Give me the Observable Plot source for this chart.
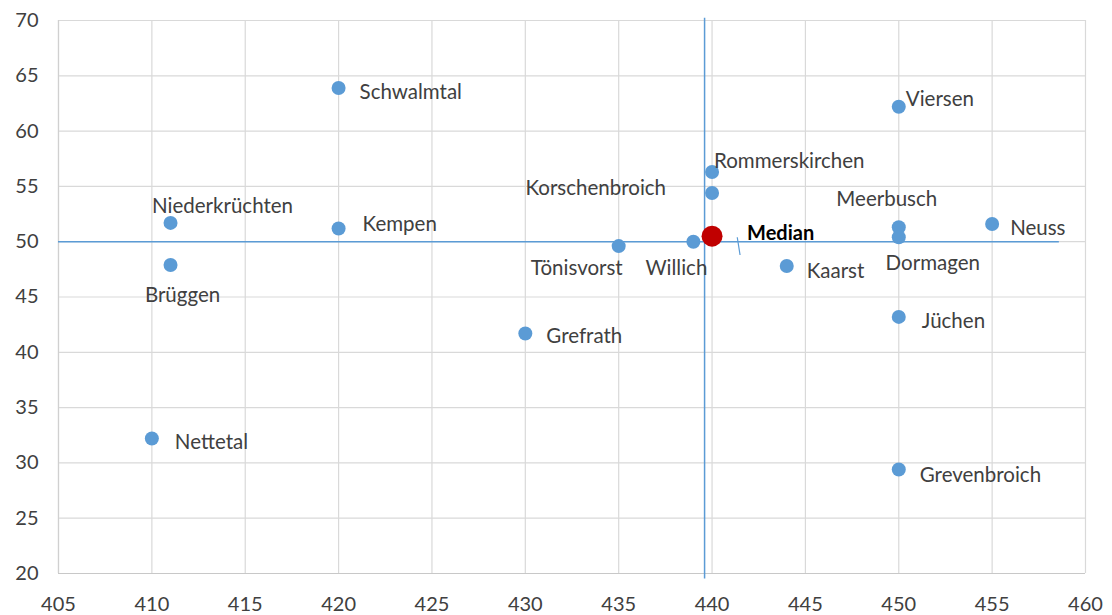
<!DOCTYPE html>
<html>
<head>
<meta charset="utf-8">
<script src="https://cdn.jsdelivr.net/npm/d3@7"></script>
<script src="https://cdn.jsdelivr.net/npm/@observablehq/plot@0.6"></script>
<style>
  html, body { margin: 0; padding: 0; background: #fff; }
  #chart svg { display: block; }
</style>
</head>
<body>
<div id="chart"></div>
<script>
// ---- data ----
const cities = ["Schwalmtal","Viersen","Rommerskirchen","Korschenbroich","Niederkrüchten","Kempen","Meerbusch","Neuss","Dormagen","Willich","Tönisvorst","Kaarst","Brüggen","Jüchen","Grefrath","Nettetal","Grevenbroich"];
const xValues = [420, 450, 440, 440, 411, 420, 450, 455, 450, 439, 435, 444, 411, 450, 430, 410, 450];
const yValues = [63.9, 62.2, 56.3, 54.4, 51.7, 51.2, 51.3, 51.6, 50.4, 50.0, 49.6, 47.8, 47.9, 43.2, 41.7, 32.2, 29.4];
const medianLabel = ["Median"];
const medianX = [440];
const medianY = [50.5];
const medianLineX = [439.6];
const medianLineY = [50.0];
const xTicks = [405, 410, 415, 420, 425, 430, 435, 440, 445, 450, 455, 460];
const yTicks = [20, 25, 30, 35, 40, 45, 50, 55, 60, 65, 70];

// ---- label placement (styling only) ----
const labelStyle = {
  "Schwalmtal":     {dx: 21,  dy: 4,   anchor: "start"},
  "Viersen":        {dx: 7,   dy: -7,  anchor: "start"},
  "Rommerskirchen": {dx: 2,   dy: -11, anchor: "start"},
  "Korschenbroich": {dx: -46, dy: -5,  anchor: "end"},
  "Niederkrüchten": {dx: 52,  dy: -16, anchor: "middle"},
  "Kempen":         {dx: 24,  dy: -4,  anchor: "start"},
  "Meerbusch":      {dx: -12, dy: -28, anchor: "middle"},
  "Neuss":          {dx: 18,  dy: 4,   anchor: "start"},
  "Dormagen":       {dx: 34,  dy: 26,  anchor: "middle"},
  "Willich":        {dx: -17, dy: 27,  anchor: "middle"},
  "Tönisvorst":     {dx: -42, dy: 22,  anchor: "middle"},
  "Kaarst":         {dx: 20,  dy: 5,   anchor: "start"},
  "Brüggen":        {dx: 12,  dy: 31,  anchor: "middle"},
  "Jüchen":         {dx: 23,  dy: 5,   anchor: "start"},
  "Grefrath":       {dx: 21,  dy: 3,   anchor: "start"},
  "Nettetal":       {dx: 23,  dy: 4,   anchor: "start"},
  "Grevenbroich":   {dx: 21,  dy: 6,   anchor: "start"}
};

const points = cities.map((c, i) => ({name: c, x: xValues[i], y: yValues[i]}));
const median = medianLabel.map((m, i) => ({name: m, x: medianX[i], y: medianY[i]}));

const FONT = "Lato, 'Open Sans', sans-serif";
const BLUE = "#5B9BD5";

const labelMarks = points.map(p => {
  const s = labelStyle[p.name];
  return Plot.text([p], {x: "x", y: "y", text: "name", dx: s.dx, dy: s.dy,
    textAnchor: s.anchor, fill: "#404040", fontSize: 20.5});
});

const chart = Plot.plot({
  width: 1112,
  height: 615,
  marginLeft: 58,
  marginRight: 27,
  marginTop: 20,
  marginBottom: 42,
  style: {fontFamily: FONT, background: "#fff"},
  x: {domain: [405, 460]},
  y: {domain: [20, 70]},
  marks: [
    Plot.gridX(xTicks, {stroke: "#d9d9d9", strokeOpacity: 1, strokeWidth: 1.2}),
    Plot.gridY(yTicks, {stroke: "#d9d9d9", strokeOpacity: 1, strokeWidth: 1.2}),
    Plot.ruleX([405], {stroke: "#d0d0d0", strokeWidth: 1.2}),
    Plot.ruleY([20], {stroke: "#c8c8c8", strokeWidth: 1.2}),
    Plot.axisX(xTicks, {tickSize: 0, tickPadding: 23, fontSize: 20, fill: "#404040", tickFormat: d => String(d)}),
    Plot.axisY(yTicks, {tickSize: 0, tickPadding: 20, fontSize: 20, fill: "#404040", tickFormat: d => String(d)}),
    // median reference lines
    Plot.ruleX(medianLineX, {y1: 19.5, y2: 70.2, stroke: BLUE, strokeWidth: 1.5}),
    Plot.ruleY(medianLineY, {x1: 405, x2: 458.6, stroke: BLUE, strokeWidth: 1.5}),
    Plot.link([{x1: 441.35, y1: 50.4, x2: 441.5, y2: 48.8}], {x1: "x1", y1: "y1", x2: "x2", y2: "y2", stroke: BLUE, strokeWidth: 1.2}),
    Plot.dot(points, {x: "x", y: "y", r: 7, fill: BLUE, stroke: "none"}),
    Plot.dot(median, {x: "x", y: "y", r: 10.5, fill: "#C00000", stroke: "none"}),
    ...labelMarks,
    Plot.text(median, {x: "x", y: "y", text: "name", dx: 35, dy: -3, textAnchor: "start",
      fill: "#000", fontSize: 20, fontWeight: "bold"})
  ]
});

document.getElementById("chart").appendChild(chart);
</script>
</body>
</html>
